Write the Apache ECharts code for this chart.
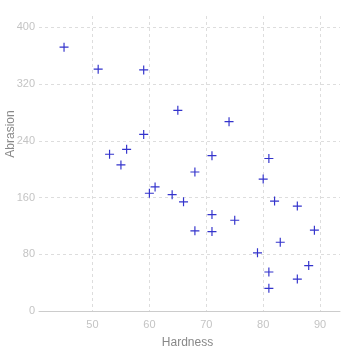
<!DOCTYPE html>
<html>
<head>
<meta charset="utf-8">
<script src="https://cdn.jsdelivr.net/npm/echarts@6/dist/echarts.min.js"></script>
<style>
  html, body { margin: 0; padding: 0; background: #fff; }
  #chart { width: 356px; height: 355px; }
</style>
</head>
<body>
<div id="chart"></div>
<script>
// Rubber abrasion data: hardness vs abrasion loss
var hardness = [45, 55, 61, 66, 71, 71, 81, 86, 53, 60, 64, 68, 79, 81, 56, 68, 75, 83, 88, 59, 71, 80, 82, 89, 51, 59, 65, 74, 81, 86];
var abrasion = [372, 206, 175, 154, 136, 112, 55, 45, 221, 166, 164, 113, 82, 32, 228, 196, 128, 97, 64, 249, 219, 186, 155, 114, 341, 340, 283, 267, 215, 148];
var xTicks = [50, 60, 70, 80, 90];
var yTicks = [0, 80, 160, 240, 320, 400];

var points = hardness.map(function (h, i) {
  return [h, abrasion[i]];
});

var font = "Liberation Sans, Arial, sans-serif";
var chart = echarts.init(document.getElementById("chart"));
var option = {
  backgroundColor: "#fff",
  animation: false,
  grid: { left: 39, right: 16, top: 16, bottom: 44, outerBoundsMode: "none" },
  xAxis: {
    type: "value",
    min: 40.6,
    max: 93.5,
    name: "Hardness",
    nameLocation: "middle",
    nameGap: 26,
    nameMoveOverlap: false,
    nameTextStyle: { color: "#888", fontSize: 12, fontFamily: font, padding: [0, 4, 0, 0] },
    axisLine: { show: true, lineStyle: { color: "#ccc" } },
    axisTick: { show: false, customValues: xTicks },
    axisLabel: { customValues: xTicks, color: "#c4c4c4", fontSize: 11, margin: 8, fontFamily: font },
    splitLine: { show: true, lineStyle: { color: "#ddd", type: [3, 3] } }
  },
  yAxis: {
    type: "value",
    min: 0,
    max: 416,
    name: "Abrasion",
    nameLocation: "middle",
    nameGap: 22,
    nameMoveOverlap: false,
    nameTextStyle: { color: "#888", fontSize: 12, fontFamily: font, padding: [0, 0, 0, 59] },
    axisLine: { show: false },
    axisTick: { show: false, customValues: yTicks },
    axisLabel: { customValues: yTicks, color: "#c4c4c4", fontSize: 11, margin: 4, fontFamily: font },
    splitLine: { show: true, lineStyle: { color: "#ddd", type: [3, 3] } }
  },
  series: [
    {
      type: "scatter",
      data: points,
      symbol: "path://M4.35,0H5.65V4.35H10V5.65H5.65V10H4.35V5.65H0V4.35H4.35Z",
      symbolSize: 9,
      itemStyle: { color: "#3333cc", opacity: 1 }
    }
  ]
};
chart.setOption(option);
</script>
</body>
</html>
